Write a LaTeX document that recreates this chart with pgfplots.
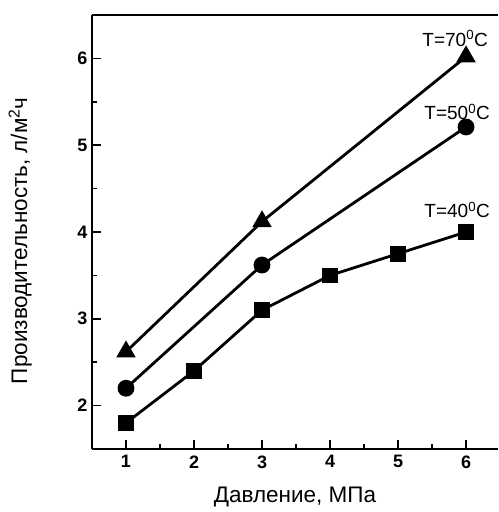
\documentclass[border=0pt]{standalone}
\usepackage{pgfplots}
\pgfplotsset{compat=1.18}
\usepackage{fontspec}
\setmainfont{Liberation Sans}
\begin{document}
\begin{tikzpicture}
\begin{axis}[
    scale only axis,
    width=406pt, height=434pt,
    xmin=0.5, xmax=6.47,
    ymin=1.5, ymax=6.5,
    axis x line*=bottom,
    axis y line*=left,
    axis line style={line width=1.6pt},
    xtick={1,2,3,4,5,6},
    ytick={2,3,4,5,6},
    minor x tick num=1,
    minor y tick num=1,
    tick align=inside,
    major tick length=9pt,
    minor tick length=5pt,
    every tick/.style={black, line width=1.5pt},
    /pgf/number format/assume math mode=true,
    ticklabel style={font=\fontsize{18}{20}\selectfont\bfseries},
    xticklabel style={yshift=-3pt},
    yticklabel style={xshift=-1pt},
    xlabel={Давление, МПа},
    ylabel={Производительность, л/м\textsuperscript{2}ч},
    label style={font=\fontsize{22.5}{26}\selectfont},
    xlabel style={at={(axis description cs:0.5,-0.11)}, anchor=center},
    ylabel style={at={(axis description cs:-0.177,0.48)}, anchor=center},
    clip=false,
]
\draw[line width=1.6pt] (rel axis cs:0,1) -- (rel axis cs:1,1);
% T = 40 C
\addplot[black, line width=2.8pt, mark=square*, mark size=6.5pt] coordinates {
    (1,1.8) (2,2.4) (3,3.1) (4,3.5) (5,3.75) (6,4.0)
};
% T = 50 C
\addplot[black, line width=2.8pt, mark=*, mark size=7pt] coordinates {
    (1,2.2) (3,3.62) (6,5.21)
};
% T = 70 C
\addplot[black, line width=2.8pt, mark=triangle*, mark size=8.5pt] coordinates {
    (1,2.62) (3,4.12) (6,6.02)
};
\node[font=\fontsize{19}{21}\selectfont] at (axis cs:5.84,6.23) {T=70\textsuperscript{0}C};
\node[font=\fontsize{19}{21}\selectfont] at (axis cs:5.87,5.38) {T=50\textsuperscript{0}C};
\node[font=\fontsize{19}{21}\selectfont] at (axis cs:5.87,4.25) {T=40\textsuperscript{0}C};
\end{axis}
\path (current axis.south west) ++(-92pt,-63pt) (current axis.north east) ++(0pt,15pt);
\end{tikzpicture}
\end{document}
